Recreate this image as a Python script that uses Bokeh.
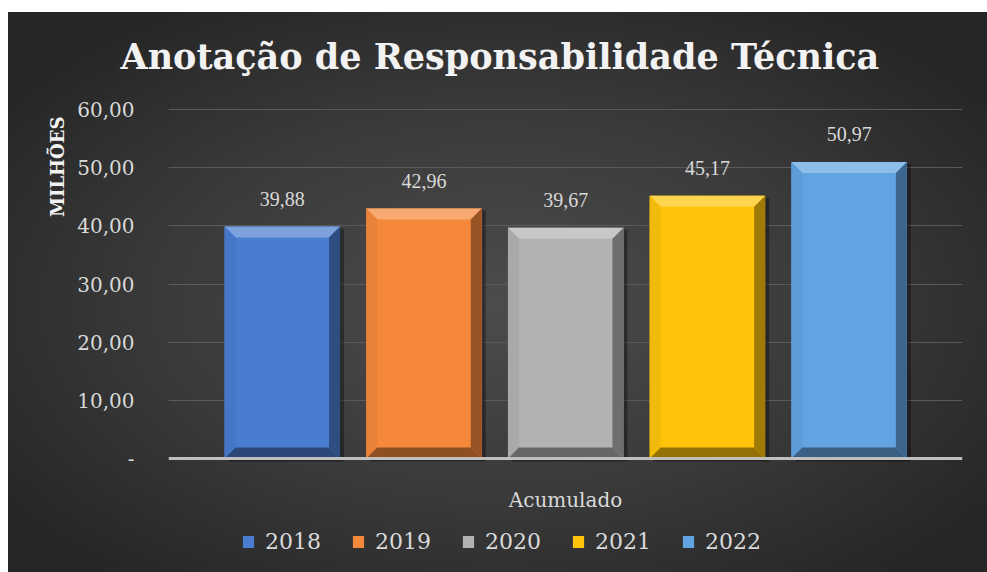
from bokeh.plotting import figure
from bokeh.models import (Range1d, FixedTicker, LabelSet, Label, ColumnDataSource,
                          Legend, LegendItem, Title, Span, Grid)
from bokeh.embed import file_html
from bokeh.resources import INLINE

# ---- data ----
title_text = "Anotação de Responsabilidade Técnica"
category = "Acumulado"
series_names = ["2018", "2019", "2020", "2021", "2022"]
values = [39.88, 42.96, 39.67, 45.17, 50.97]
colors = ["#4a7cd0", "#f5883b", "#b2b2b2", "#ffc40a", "#62a4e2"]
y_ticks = [0, 10, 20, 30, 40, 50, 60]
y_tick_labels = ["-", "10,00", "20,00", "30,00", "40,00", "50,00", "60,00"]
y_axis_title = "MILHÕES"

SERIF = "DejaVu Serif"
TXT = "#d9d9d9"

# layout (pixels)
PX_X = 141.7          # pixels per category slot
PX_Y = 5.817          # pixels per unit
TITLE_PX = 85         # height of the title panel
TOP_PX, BOT_PX = 97 - TITLE_PX, 114   # space above 60 and below 0 inside the frame
x_lo, x_hi = -0.803, 4.800
y_lo, y_hi = -BOT_PX / PX_Y, 60 + TOP_PX / PX_Y

p = figure(frame_width=794, frame_height=560 - TITLE_PX, output_backend="svg",
           toolbar_location=None, x_axis_location=None,
           x_range=Range1d(x_lo, x_hi), y_range=Range1d(y_lo, y_hi),
           min_border_left=160, min_border_right=25,
           min_border_top=0, min_border_bottom=0,
           styles={"margin-left": "8px", "margin-top": "12px",
                   "background": "radial-gradient(ellipse 62% 62% at 50% 52%, #4c4c4c 0%, #3a3a3a 55%, #262626 100%)"})
p.border_fill_alpha = 0
p.background_fill_alpha = 0
p.outline_line_color = None

# title
p.title.text = title_text
p.title.align = "left"
p.title.offset = -48
p.title.standoff = 42
p.title.text_font = SERIF
p.title.text_font_style = "bold"
p.title.text_font_size = "35px"
p.title.text_color = "#f2f2f2"

# grid: horizontal lines only
for g in p.center:
    if isinstance(g, Grid) and g.dimension == 0:
        g.grid_line_color = None
p.ygrid.ticker = FixedTicker(ticks=y_ticks[1:])
p.ygrid.grid_line_color = "#5a5a5a"
p.ygrid.grid_line_width = 1

# y axis
p.yaxis.ticker = FixedTicker(ticks=y_ticks)
p.yaxis.major_label_overrides = {t: l for t, l in zip(y_ticks, y_tick_labels)}
p.yaxis.axis_line_color = None
p.yaxis.major_tick_line_color = None
p.yaxis.minor_tick_line_color = None
p.yaxis.major_label_standoff = 28
p.yaxis.major_label_text_font = SERIF
p.yaxis.major_label_text_font_size = "20px"
p.yaxis.major_label_text_color = TXT

# y axis title (placed high on the left, as in the reference)
ytitle = Title(text=y_axis_title, align="right", offset=104 - TITLE_PX, standoff=14,
               text_font=SERIF, text_font_style="bold", text_font_size="18px",
               text_color="#f2f2f2")
p.add_layout(ytitle, "left")

# ---- bars with bevel ----
bw = 0.815
px_x = 1 / PX_X
px_y = 1 / PX_Y
bev = 11


def mix(c, t, f):
    c = c.lstrip("#")
    r, g, b = int(c[0:2], 16), int(c[2:4], 16), int(c[4:6], 16)
    tr, tg, tb = t
    return "#%02x%02x%02x" % (round(r + (tr - r) * f), round(g + (tg - g) * f), round(b + (tb - b) * f))


items = []
for i, (name, v, c) in enumerate(zip(series_names, values, colors)):
    # shadow
    p.vbar(x=[i + 4 * px_x], top=[v - 2 * px_y], bottom=[-3 * px_y], width=bw,
           fill_color="black", fill_alpha=0.35, line_color=None)
    r = p.vbar(x=[i], top=[v], bottom=[0], width=bw, fill_color=c, line_color=None)
    items.append(LegendItem(label=name, renderers=[r]))
    x0, x1 = i - bw / 2, i + bw / 2
    y0, y1 = 0, v
    dx, dy = bev * px_x, bev * px_y
    ix0, ix1, iy0, iy1 = x0 + dx, x1 - dx, y0 + dy, y1 - dy
    xs = [[x0, x1, ix1, ix0],           # top
          [x0, ix0, ix0, x0],           # left
          [x1, x1, ix1, ix1],           # right
          [x0, ix0, ix1, x1]]           # bottom
    ys = [[y1, y1, iy1, iy1],
          [y1, iy1, iy0, y0],
          [y1, y0, iy0, iy1],
          [y0, iy0, iy0, y0]]
    fills = [mix(c, (255, 255, 255), 0.28), mix(c, (0, 0, 0), 0.05),
             mix(c, (0, 0, 0), 0.38), mix(c, (0, 0, 0), 0.42)]
    p.patches(xs=xs, ys=ys, fill_color=fills, line_color=None)

# category axis line at zero
p.add_layout(Span(location=0, dimension="width", line_color="#bfbfbf", line_width=3))

# data labels
src = ColumnDataSource(dict(x=list(range(len(values))), y=values,
                            t=[f"{v:.2f}".replace(".", ",") for v in values]))
p.add_layout(LabelSet(x="x", y="y", text="t", source=src, y_offset=21,
                      text_align="center", text_baseline="alphabetic",
                      text_font=SERIF, text_font_size="20px", text_color=TXT))

# category label
p.add_layout(Label(x=(x_lo + x_hi) / 2, y=0, y_offset=-41, text=category,
                   text_align="center", text_baseline="alphabetic",
                   text_font=SERIF, text_font_size="20px", text_color=TXT))

# legend
legend = Legend(items=items, orientation="horizontal", location=(73, 18),
                glyph_width=14, glyph_height=15, label_standoff=10, spacing=30,
                padding=0, margin=0, border_line_color=None, background_fill_alpha=0,
                label_text_font=SERIF, label_text_font_size="22px", label_text_color=TXT,
                label_height=20)
p.add_layout(legend, "center")

open("out.html", "w").write(file_html(p, INLINE))
